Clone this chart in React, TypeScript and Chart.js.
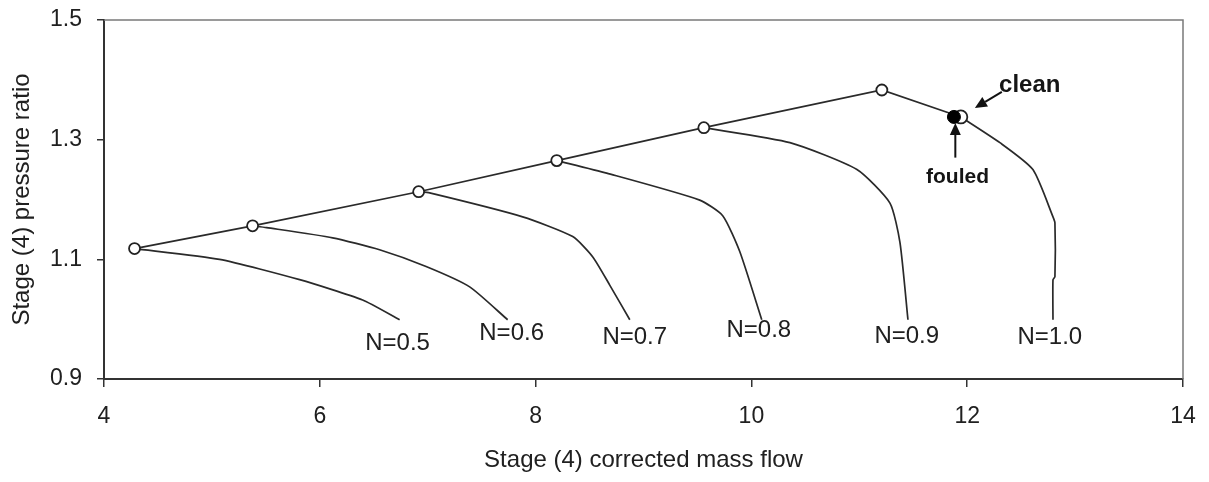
import { useEffect, useRef } from 'react';
import { Chart, registerables } from 'chart.js';

Chart.register(...registerables);

// ---- axis ticks ----
const xTicks = [4, 6, 8, 10, 12, 14];
const yTicks = [0.9, 1.1, 1.3, 1.5];

// ---- surge line (open markers), ends at the clean point ----
const surgeX = [4.283, 5.377, 6.916, 8.196, 9.559, 11.209, 11.941];
const surgeY = [1.118, 1.156, 1.213, 1.265, 1.32, 1.383, 1.338];

// ---- operating points ----
const cleanX = [11.941];
const cleanY = [1.338];
const fouledX = [11.877];
const fouledY = [1.338];

// ---- speed lines ----
const n05X = [4.283, 5.071, 5.813, 6.397, 6.74];
const n05Y = [1.118, 1.1, 1.066, 1.032, 0.999];
const n06X = [5.377, 5.507, 6.119, 6.554, 6.985, 7.389, 7.741];
const n06Y = [1.156, 1.153, 1.136, 1.116, 1.088, 1.054, 0.999];
const n07X = [6.916, 7.018, 7.88, 8.344, 8.53, 8.687, 8.873];
const n07Y = [1.213, 1.211, 1.171, 1.138, 1.104, 1.057, 0.999];
const n08X = [8.196, 8.659, 9.521, 9.734, 9.892, 10.096];
const n08Y = [1.265, 1.244, 1.199, 1.173, 1.113, 0.999];
const n09X = [9.559, 10.357, 10.978, 11.284, 11.377, 11.451];
const n09Y = [1.32, 1.295, 1.25, 1.194, 1.128, 0.999];
const n10X = [11.941, 12.303, 12.609, 12.795, 12.813, 12.813, 12.795, 12.795];
const n10Y = [1.338, 1.295, 1.25, 1.171, 1.161, 1.071, 1.066, 0.999];

const speedLabels = ['N=0.5', 'N=0.6', 'N=0.7', 'N=0.8', 'N=0.9', 'N=1.0'];
const speedLabelX = [6.721, 7.778, 8.919, 10.069, 11.44, 12.766];
const speedLabelY = [0.959, 0.977, 0.969, 0.981, 0.971, 0.969];

const FONT = '"Liberation Sans", Arial, Helvetica, sans-serif';
const LINE = '#2a2a2a';
const TEXT = '#202020';

const zip = (xs: number[], ys: number[]) => xs.map((x, i) => ({ x, y: ys[i] }));

function arrow(ctx: CanvasRenderingContext2D, x1: number, y1: number, x2: number, y2: number) {
  const ang = Math.atan2(y2 - y1, x2 - x1);
  const headL = 12;
  const headW = 5.5;
  const bx = x2 - headL * Math.cos(ang);
  const by = y2 - headL * Math.sin(ang);
  ctx.strokeStyle = '#111';
  ctx.fillStyle = '#111';
  ctx.lineWidth = 2;
  ctx.beginPath();
  ctx.moveTo(x1, y1);
  ctx.lineTo(bx, by);
  ctx.stroke();
  ctx.beginPath();
  ctx.moveTo(x2, y2);
  ctx.lineTo(bx + headW * Math.sin(ang), by - headW * Math.cos(ang));
  ctx.lineTo(bx - headW * Math.sin(ang), by + headW * Math.cos(ang));
  ctx.closePath();
  ctx.fill();
}

const annotations = {
  id: 'annotations',
  beforeDatasetsDraw(chart: any) {
    const { ctx, chartArea } = chart;
    ctx.save();
    ctx.strokeStyle = '#7a7a7a';
    ctx.lineWidth = 1.5;
    ctx.beginPath();
    ctx.moveTo(chartArea.left, chartArea.top);
    ctx.lineTo(chartArea.right, chartArea.top);
    ctx.lineTo(chartArea.right, chartArea.bottom);
    ctx.stroke();
    ctx.restore();
  },
  afterDatasetsDraw(chart: any) {
    const { ctx } = chart;
    const xs = chart.scales.x;
    const ys = chart.scales.y;
    ctx.save();
    ctx.fillStyle = TEXT;
    ctx.font = `24px ${FONT}`;
    ctx.textAlign = 'center';
    ctx.textBaseline = 'middle';
    speedLabels.forEach((t, i) => {
      ctx.fillText(t, xs.getPixelForValue(speedLabelX[i]), ys.getPixelForValue(speedLabelY[i]));
    });
    // clean annotation
    ctx.font = `bold 24px ${FONT}`;
    ctx.textBaseline = 'alphabetic';
    ctx.fillStyle = '#151515';
    ctx.fillText('clean', xs.getPixelForValue(12.58), ys.getPixelForValue(1.38));
    arrow(ctx, xs.getPixelForValue(12.321), ys.getPixelForValue(1.38), xs.getPixelForValue(12.071), ys.getPixelForValue(1.353));
    // fouled annotation
    ctx.font = `bold 21px ${FONT}`;
    ctx.textBaseline = 'middle';
    ctx.fillStyle = '#151515';
    ctx.fillText('fouled', xs.getPixelForValue(11.91), ys.getPixelForValue(1.238));
    arrow(ctx, xs.getPixelForValue(11.89), ys.getPixelForValue(1.27), xs.getPixelForValue(11.89), ys.getPixelForValue(1.328));
    ctx.restore();
  },
};

export default function App() {
  const ref = useRef<HTMLCanvasElement | null>(null);
  useEffect(() => {
    document.body.style.margin = '0';
    const canvas = ref.current!;
    const speedSet = (xs: number[], ys: number[]) => ({
      data: zip(xs, ys),
      showLine: true,
      borderColor: LINE,
      borderWidth: 1.7,
      pointRadius: 0,
      tension: 0.2,
      order: 5,
    });
    const chart = new Chart(canvas, {
      type: 'scatter',
      data: {
        datasets: [
          speedSet(n05X, n05Y),
          speedSet(n06X, n06Y),
          speedSet(n07X, n07Y),
          speedSet(n08X, n08Y),
          speedSet(n09X, n09Y),
          speedSet(n10X, n10Y),
          {
            data: zip(surgeX, surgeY),
            showLine: true,
            borderColor: LINE,
            borderWidth: 1.7,
            tension: 0,
            pointRadius: surgeX.map((_, i) => (i === surgeX.length - 1 ? 0 : 5.5)),
            pointBackgroundColor: '#ffffff',
            pointBorderColor: '#222',
            pointBorderWidth: 1.8,
            order: 3,
          } as any,
          {
            data: zip(cleanX, cleanY),
            pointRadius: 6.5,
            pointBackgroundColor: '#ffffff',
            pointBorderColor: '#222',
            pointBorderWidth: 1.8,
            order: 2,
          },
          {
            data: zip(fouledX, fouledY),
            pointRadius: 6.5,
            pointBackgroundColor: '#000000',
            pointBorderColor: '#000000',
            pointBorderWidth: 1,
            order: 1,
          },
        ],
      },
      options: {
        animation: false,
        responsive: false,
        events: [],
        layout: { padding: { top: 20, right: 26, left: 0, bottom: 0 } },
        plugins: { legend: { display: false }, tooltip: { enabled: false } },
        scales: {
          x: {
            type: 'linear',
            min: 4,
            max: 14,
            afterBuildTicks: (s: any) => {
              s.ticks = xTicks.map((v) => ({ value: v }));
            },
            afterFit: (s: any) => {
              s.height = 103;
              s.paddingLeft = 0;
              s.paddingRight = 0;
            },
            ticks: {
              color: TEXT,
              font: { family: FONT, size: 23 },
              padding: 16,
              maxRotation: 0,
              autoSkip: false,
            },
            grid: { drawOnChartArea: false, drawTicks: true, tickLength: 8, color: '#333', lineWidth: 1.5 },
            border: { display: true, color: '#333', width: 2 },
            title: {
              display: true,
              text: 'Stage (4) corrected mass flow',
              color: TEXT,
              font: { family: FONT, size: 24 },
              padding: { top: 0, bottom: 7.6 },
            },
          },
          y: {
            type: 'linear',
            min: 0.9,
            max: 1.5,
            afterBuildTicks: (s: any) => {
              s.ticks = yTicks.map((v) => ({ value: v }));
            },
            afterFit: (s: any) => {
              s.width = 104;
              s.paddingTop = 0;
              s.paddingBottom = 0;
            },
            ticks: {
              color: TEXT,
              font: { family: FONT, size: 23 },
              padding: 15,
              callback: (v: any) => Number(v).toFixed(1),
              autoSkip: false,
            },
            grid: { drawOnChartArea: false, drawTicks: true, tickLength: 7, color: '#333', lineWidth: 1.5 },
            border: { display: true, color: '#333', width: 2 },
            title: {
              display: true,
              text: 'Stage (4) pressure ratio',
              color: TEXT,
              font: { family: FONT, size: 24 },
              padding: { top: 8, bottom: 0 },
            },
          },
        },
      },
      plugins: [annotations],
    });
    return () => chart.destroy();
  }, []);
  return (
    <div style={{ position: 'absolute', left: 0, top: 0, width: 1209, height: 482, background: '#fff' }}>
      <canvas ref={ref} width={1209} height={482} style={{ display: 'block' }} />
    </div>
  );
}
